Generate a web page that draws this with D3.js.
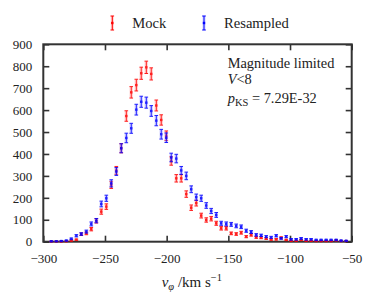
<!DOCTYPE html>
<html>
<head>
<meta charset="utf-8">
<script src="https://cdn.jsdelivr.net/npm/d3@7"></script>
<style>
  body { margin: 0; background: #fff; }
  text { font-family: "Liberation Serif", "DejaVu Serif", serif; fill: #222; }
</style>
</head>
<body>
<div id="chart"></div>
<script>
// bin centres, km/s
const vphi = [-293.5, -289.4, -285.4, -281.3, -277.3, -273.2, -269.2, -265.1, -261.1, -257.0,
  -253.0, -248.9, -244.9, -240.8, -236.8, -232.7, -228.7, -224.6, -220.6, -216.5,
  -212.5, -208.4, -204.4, -200.3, -196.3, -192.2, -188.2, -184.1, -180.1, -176.0,
  -172.0, -167.9, -163.9, -159.8, -155.8, -151.7, -147.7, -143.6, -139.6, -135.5,
  -131.5, -127.4, -123.4, -119.3, -115.3, -111.2, -107.2, -103.1, -99.1, -95.0,
  -91.0, -86.9, -82.9, -78.8, -74.8, -70.7, -66.7, -62.6, -58.6, -54.5]

const mock = [1, 1, 1, 2, 5, 9, 34, 38, 57, 95,
  137, 160, 259, 325, 426, 573, 681, 714, 768, 795,
  765, 621, 555, 483, 368, 289, 289, 217, 155, 176,
  119, 99, 105, 84, 61, 61, 38, 35, 41, 23,
  31, 20, 18, 14, 10, 11, 18, 8, 4, 4,
  8, 4, 4, 3, 3, 3, 3, 6, 3, 3]

const resampled = [2, 2, 3, 5, 13, 27, 35, 46, 81, 96,
  172, 198, 266, 320, 426, 473, 517, 602, 638, 634,
  596, 552, 490, 474, 384, 379, 325, 300, 239, 203,
  198, 165, 140, 122, 84, 81, 79, 72, 68, 50,
  44, 31, 29, 23, 20, 27, 15, 23, 11, 11,
  15, 11, 11, 8, 8, 8, 8, 8, 5, 4]

const xTicks = [-300, -250, -200, -150, -100, -50]
const yTicks = [0, 100, 200, 300, 400, 500, 600, 700, 800, 900]

const w = 374, h = 308
const mLeft = 43.3, mRight = 351.7, mTop = 44.3, mBottom = 241.7
const serif = '"Liberation Serif", "DejaVu Serif", serif'

const svg = d3.select('#chart').append('svg')
  .attr('width', w).attr('height', h)

const x = d3.scaleLinear().domain([-300, -50]).range([mLeft, mRight])
const y = d3.scaleLinear().domain([0, 900]).range([mBottom, mTop])

// axes, ticks pointing inwards
const axisCol = '#333'
function styleAxis(g, labels) {
  g.attr('font-family', serif)
  g.select('.domain').remove()
  g.selectAll('.tick line').attr('stroke', axisCol).attr('stroke-width', 1.6)
  if (!labels) g.selectAll('.tick text').remove()
  else g.selectAll('.tick text')
    .style('font-family', serif).style('font-size', '13px').attr('fill', '#222')
}

svg.append('g').attr('transform', 'translate(0,' + mBottom + ')')
  .call(d3.axisBottom(x).tickValues(xTicks).tickSize(-6).tickPadding(12.5))
  .call(g => styleAxis(g, true))
svg.append('g').attr('transform', 'translate(0,' + mTop + ')')
  .call(d3.axisTop(x).tickValues(xTicks).tickSize(-6))
  .call(g => styleAxis(g, false))
svg.append('g').attr('transform', 'translate(' + mLeft + ',0)')
  .call(d3.axisLeft(y).tickValues(yTicks).tickSize(-6).tickPadding(11).tickFormat(d3.format('d')))
  .call(g => styleAxis(g, true))
svg.append('g').attr('transform', 'translate(' + mRight + ',0)')
  .call(d3.axisRight(y).tickValues(yTicks).tickSize(-6))
  .call(g => styleAxis(g, false))

svg.append('rect')
  .attr('x', mLeft).attr('y', mTop)
  .attr('width', mRight - mLeft).attr('height', mBottom - mTop)
  .attr('fill', 'none').attr('stroke', axisCol).attr('stroke-width', 2)

// error bars, poisson errors sqrt(N)
function errorBars(vals, col, halo) {
  const g = svg.append('g').attr('opacity', 0.88)
  const pts = g.selectAll('g').data(vals).enter().append('g')
  const cap = 1.8
  const hi = d => y(d + Math.sqrt(d))
  const lo = d => y(Math.max(0, d - Math.sqrt(d)))
  pts.append('line')
    .attr('x1', (d, i) => x(vphi[i])).attr('x2', (d, i) => x(vphi[i]))
    .attr('y1', hi).attr('y2', lo)
    .attr('stroke', halo).attr('stroke-width', 3.5).attr('opacity', 0.45)
  pts.append('line')
    .attr('x1', (d, i) => x(vphi[i])).attr('x2', (d, i) => x(vphi[i]))
    .attr('y1', hi).attr('y2', lo)
    .attr('stroke', col).attr('stroke-width', 1)
  pts.append('line')
    .attr('x1', (d, i) => x(vphi[i]) - cap).attr('x2', (d, i) => x(vphi[i]) + cap)
    .attr('y1', hi).attr('y2', hi)
    .attr('stroke', col).attr('stroke-width', 1)
  pts.append('line')
    .attr('x1', (d, i) => x(vphi[i]) - cap).attr('x2', (d, i) => x(vphi[i]) + cap)
    .attr('y1', lo).attr('y2', lo)
    .attr('stroke', col).attr('stroke-width', 1)
  pts.append('rect')
    .attr('x', (d, i) => x(vphi[i]) - 1.2).attr('y', d => y(d) - 1.2)
    .attr('width', 2.4).attr('height', 2.4).attr('fill', col)
}
errorBars(mock, '#ff0000', '#ff9a9a')
errorBars(resampled, '#0000ff', '#9a9aff')

// legend
const legend = [['Mock', '#ff0000', '#ff9a9a', 112.3], ['Resampled', '#0000ff', '#9a9aff', 204]]
legend.forEach(function (l) {
  const lg = svg.append('g')
  lg.append('line').attr('x1', l[3]).attr('x2', l[3]).attr('y1', 16).attr('y2', 30)
    .attr('stroke', l[2]).attr('stroke-width', 3).attr('opacity', 0.45)
  lg.append('line').attr('x1', l[3]).attr('x2', l[3]).attr('y1', 16).attr('y2', 30)
    .attr('stroke', l[1]).attr('stroke-width', 1)
  lg.append('line').attr('x1', l[3] - 1.8).attr('x2', l[3] + 1.8).attr('y1', 16).attr('y2', 16)
    .attr('stroke', l[1])
  lg.append('line').attr('x1', l[3] - 1.8).attr('x2', l[3] + 1.8).attr('y1', 30).attr('y2', 30)
    .attr('stroke', l[1])
  lg.append('rect').attr('x', l[3] - 1.2).attr('y', 21.8).attr('width', 2.4).attr('height', 2.4)
    .attr('fill', l[1])
  lg.append('text').attr('x', l[3] + 20).attr('y', 28.3)
    .style('font-size', '14.6px').text(l[0])
})

// annotation
svg.append('text').attr('x', 227.7).attr('y', 68).style('font-size', '14.4px').text('Magnitude limited')
const vt = svg.append('text').attr('x', 227.7).attr('y', 84).style('font-size', '14.4px')
vt.append('tspan').style('font-style', 'italic').text('V')
vt.append('tspan').text('<8')
const pt = svg.append('text').attr('x', 227.7).attr('y', 103.3).style('font-size', '14.4px')
pt.append('tspan').style('font-style', 'italic').text('p')
pt.append('tspan').attr('dy', 3).style('font-size', '10.5px').text('KS')
pt.append('tspan').attr('dy', -3).text(' = 7.29E-32')

// x label
const xl = svg.append('text').attr('x', 161.7).attr('y', 286.7).style('font-size', '15px')
xl.append('tspan').style('font-style', 'italic').text('v')
xl.append('tspan').attr('dy', 3.5).style('font-size', '10.5px').style('font-style', 'italic').text('φ')
xl.append('tspan').attr('dy', -3.5).text(' /km s')
xl.append('tspan').attr('dy', -6).style('font-size', '10.5px').text('−1')
</script>
</body>
</html>
